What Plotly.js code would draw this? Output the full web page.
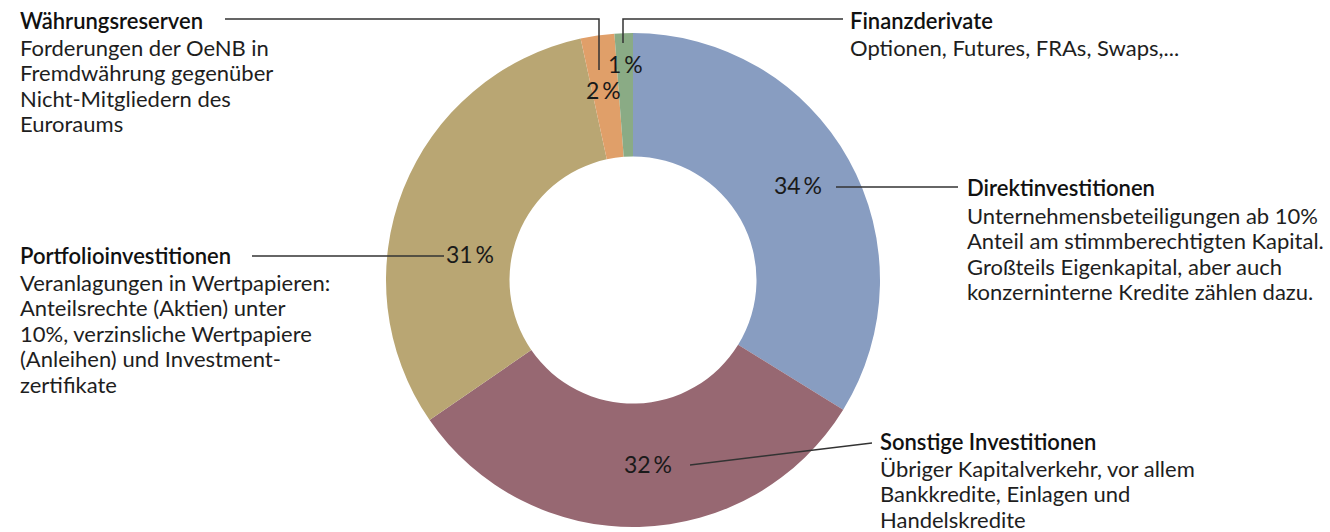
<!DOCTYPE html>
<html>
<head>
<meta charset="utf-8">
<script src="https://cdn.plot.ly/plotly-3.0.1.min.js"></script>
<style>
  html, body { margin: 0; padding: 0; background: #fff; }
  #chart { width: 1330px; height: 532px; }
</style>
</head>
<body>
<div id="chart"></div>
<script>
// slices, clockwise from 12 o'clock
const categories = ["Direktinvestitionen", "Sonstige Investitionen", "Portfolioinvestitionen", "Währungsreserven", "Finanzderivate"];
const shares = [33.8, 31.6, 31.2, 2.2, 1.2];
const colors = ["#889dc1", "#976872", "#b9a673", "#e09f69", "#8aab85"];

const descriptions = [
  ["Unternehmensbeteiligungen ab 10%", "Anteil am stimmberechtigten Kapital.", "Großteils Eigenkapital, aber auch", "konzerninterne Kredite zählen dazu."],
  ["Übriger Kapitalverkehr, vor allem", "Bankkredite, Einlagen und", "Handelskredite"],
  ["Veranlagungen in Wertpapieren:", "Anteilsrechte (Aktien) unter", "10%, verzinsliche Wertpapiere", "(Anleihen) und Investment-", "zertifikate"],
  ["Forderungen der OeNB in", "Fremdwährung gegenüber", "Nicht-Mitgliedern des", "Euroraums"],
  ["Optionen, Futures, FRAs, Swaps,..."]
];

const W = 1330, H = 532;
const px = x => x / W;
const py = y => 1 - y / H;

const FONT = "Lato, 'Open Sans', sans-serif";
const TXT = "#1e1e1e";

// text blocks: left x, title y (pixels)
const blockPos = [[965, 188], [878, 441], [18, 255], [18, 20], [848, 20]];
// percent label centres
const pctPos = [[798, 185], [648, 464], [470, 254], [603, 90], [625, 64]];

const annotations = [];
categories.forEach((c, i) => {
  const [bx, by] = blockPos[i];
  annotations.push({
    xref: "paper", yref: "paper", x: px(bx), y: py(by),
    xanchor: "left", yanchor: "middle", showarrow: false,
    text: c, font: { family: FONT, size: 22, weight: 600, color: "#111" }
  });
  descriptions[i].forEach((line, j) => {
    annotations.push({
      xref: "paper", yref: "paper", x: px(bx), y: py(by + 27 + j * 25.5),
      xanchor: "left", yanchor: "middle", showarrow: false,
      text: line, font: { family: FONT, size: 22, color: TXT }
    });
  });
  const [tx, ty] = pctPos[i];
  annotations.push({
    xref: "paper", yref: "paper", x: px(tx), y: py(ty),
    xanchor: "center", yanchor: "middle", showarrow: false,
    text: Math.round(shares[i]) + "\u2009%", font: { family: FONT, size: 23, color: "#1a1a1a" }
  });
});

// leader lines
const leaders = [
  [[836, 187], [958, 187]],
  [[690, 465], [872, 443]],
  [[252, 256], [444, 256]],
  [[225, 19], [599, 19], [599, 70]],
  [[843, 19], [623, 19], [623, 43]]
];
const shapes = leaders.map(pts => ({
  type: "path", xref: "paper", yref: "paper",
  path: pts.map((p, k) => (k ? "L" : "M") + px(p[0]) + "," + py(p[1])).join(" "),
  line: { color: "#333", width: 1.5 }
}));

const trace = {
  type: "pie",
  labels: categories,
  values: shares,
  marker: { colors: colors, line: { width: 0 } },
  hole: 0.5,
  sort: false,
  direction: "clockwise",
  rotation: 0,
  textinfo: "none",
  hoverinfo: "label+percent",
  domain: { x: [px(386), px(880)], y: [py(528), py(32)] }
};

const layout = {
  width: W,
  height: H,
  margin: { l: 0, r: 0, t: 0, b: 0 },
  paper_bgcolor: "white",
  showlegend: false,
  annotations: annotations,
  shapes: shapes
};

Plotly.newPlot("chart", [trace], layout, { displayModeBar: false, staticPlot: true });
</script>
</body>
</html>
